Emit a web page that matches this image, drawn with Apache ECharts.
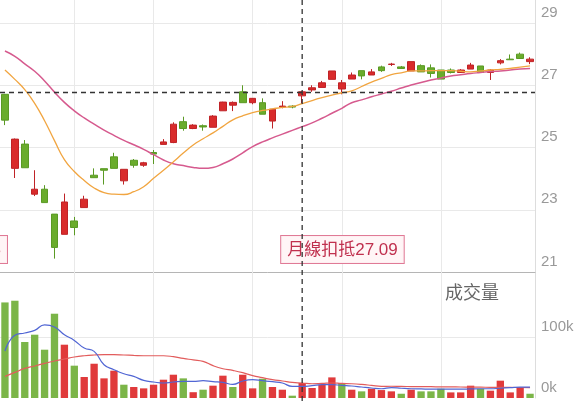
<!DOCTYPE html>
<html><head><meta charset="utf-8">
<script src="https://cdn.jsdelivr.net/npm/echarts@6/dist/echarts.min.js"></script>
<style>html,body{margin:0;padding:0;background:#fff}#c{width:580px;height:403px}</style>
</head><body><div id="c"></div>
<script>
const categories = ['1','2','3','4','5','6','7','8','9','10','11','12','13','14','15','16','17','18','19','20',
'21','22','23','24','25','26','27','28','29','30','31','32','33','34','35','36','37','38','39','40',
'41','42','43','44','45','46','47','48','49','50','51','52','53','54'];
// [open, close, low, high]
const candles = [
[26.71,25.88,25.72,26.72],[24.33,25.27,24.02,25.29],[25.11,24.35,24.35,25.24],[23.50,23.66,23.44,24.27],
[23.66,23.23,23.23,23.79],[22.86,21.79,21.43,22.86],[22.21,23.25,22.21,23.52],[22.64,22.43,22.18,22.77],
[23.07,23.34,23.07,23.45],[24.11,24.03,24.03,24.33],[24.32,24.27,23.81,24.32],[24.70,24.33,24.33,24.83],
[23.93,24.30,23.81,24.30],[24.59,24.43,24.35,24.63],[24.43,24.51,24.38,24.54],[24.84,24.79,24.47,24.92],
[25.10,25.18,25.10,25.27],[25.16,25.75,25.14,25.81],[25.83,25.61,25.54,25.99],[25.61,25.72,25.59,25.75],
[25.70,25.66,25.54,25.74],[25.65,26.01,25.65,26.04],[26.18,26.46,26.18,26.47],[26.36,26.45,26.17,26.48],
[26.79,26.44,26.44,27.00],[26.44,26.58,26.39,26.59],[26.44,26.07,26.07,26.58],[25.85,26.23,25.61,26.24],
[26.30,26.33,26.26,26.49],[26.33,26.30,26.26,26.36],[26.66,26.79,26.42,26.81],[26.85,26.92,26.79,27.00],
[26.93,27.08,26.93,27.14],[27.19,27.46,27.19,27.46],[26.88,27.08,26.71,27.17],[27.20,27.33,27.20,27.41],
[27.47,27.30,27.19,27.47],[27.33,27.43,27.33,27.52],[27.59,27.47,27.43,27.63],[27.67,27.68,27.62,27.72],
[27.59,27.54,27.54,27.62],[27.46,27.76,27.46,27.76],[27.63,27.43,27.43,27.67],[27.56,27.38,27.25,27.67],
[27.49,27.20,27.20,27.49],[27.49,27.41,27.38,27.54],[27.41,27.49,27.41,27.52],[27.52,27.65,27.52,27.72],
[27.62,27.41,27.41,27.62],[27.41,27.49,27.17,27.52],[27.72,27.79,27.67,27.84],[27.84,27.82,27.82,27.99],
[28.00,27.86,27.86,28.05],[27.76,27.84,27.68,27.90]
];
const maShort = [27.49,27.19,26.86,26.42,25.86,25.22,24.61,24.23,23.94,23.70,
23.55,23.50,23.49,23.58,23.74,24.01,24.27,24.54,24.82,25.08,
25.28,25.47,25.68,25.89,26.02,26.12,26.19,26.24,26.29,26.32,
26.41,26.51,26.60,26.68,26.76,26.82,26.96,27.10,27.22,27.34,
27.40,27.46,27.46,27.47,27.47,27.47,27.45,27.43,27.46,27.49,
27.51,27.54,27.58,27.62];
const maMonth = [28.10,27.93,27.69,27.45,27.14,26.78,26.45,26.18,25.95,25.75,
25.56,25.39,25.23,25.09,24.94,24.77,24.60,24.48,24.42,24.36,
24.33,24.36,24.48,24.63,24.83,25.03,25.18,25.31,25.43,25.55,
25.67,25.79,25.94,26.10,26.26,26.44,26.53,26.63,26.72,26.81,
26.91,27.01,27.09,27.17,27.23,27.30,27.34,27.38,27.41,27.44,
27.46,27.49,27.52,27.54];
// volume in thousands
const volume = [156.7,159.5,91.8,103.8,79.2,138.2,87.4,53,34.4,56.2,
32.2,44.8,21.8,18,15.8,21.8,30,38.2,32.2,9.5,
13.6,20.2,36.6,18,38.2,15.8,31.6,18,13.6,3.8,
24.6,16.4,21.8,33.8,24.6,13.6,10.9,15.2,13,10.9,
7,13.6,10.9,10.9,15.2,9.2,9.2,20.2,15.2,12,
28.4,9.2,16.4,7];
// 1 = up day (red), 0 = down day (green)
const volumeUp = [0,0,0,0,0,0,1,0,1,1,1,1,0,1,1,1,1,1,0,1,
0,1,1,0,1,1,0,1,1,0,1,1,1,1,0,1,0,1,1,1,
0,1,0,0,0,1,1,1,0,1,1,1,1,0];
const volMaShort = [77,103,106.6,110.8,120,116.4,103.8,94.4,82,76.4,
54.6,46.4,39.8,35.4,28.9,26.2,24.6,26.2,27.2,27.2,
28.4,26.7,25.6,22.3,27.9,30,28.4,26.7,24.6,19,
19,20.2,21.8,21.8,20.7,19.7,18,16.4,15.2,16.9,
16,15.2,14.8,14.4,14.4,14.4,14.4,14.8,15.2,15.2,
16,16.9,17.7,17.7];
const volMaLong = [35.4,42,48.5,52.5,56.7,60.7,63.9,67.2,69.3,70.5,
71,71,70.5,69.8,69.3,69.3,69.3,67.7,64.9,62.5,
60,53,48,45.2,41.5,36.6,33.3,30,27.9,25.6,
24.6,23.4,23.9,24.6,23.9,23.4,22.3,20.7,19,19.3,
19,18.8,18.6,18.5,18.3,18.2,18,17.8,17.7,17.5,
17.4,17.3,17.2,17.1];
const priceTicks = [21,23,25,27,29];
const volumeTicks = [0,100];
const gridCats = [7,15,25,34,44];
const crossIdx = 30;
const monthLabel = '月線扣抵27.09';
const seasonLabel = '季線扣抵25.45';
const volumeTitle = '成交量';

const RED='#d92b2b', RED_B='#bf2327', GREEN='#6aac2c', GREEN_B='#5a9a24';
const VRED='#e03a3b', VGREEN='#7bb548';
const FONT='"Liberation Sans", Arial, sans-serif';
const CJK='"Liberation Sans", "Noto Sans CJK TC", sans-serif';

const chart = echarts.init(document.getElementById('c'), null, {renderer:'canvas'});
const gridMark = (extra) => ({
  silent:true, symbol:'none', z:1,
  label:{show:false},
  lineStyle:{color:'#e9e9e9', type:'solid', width:1},
  data: gridCats.map(i => ({xAxis: categories[i]})).concat(extra||[])
});
chart.setOption({
  animation:false,
  backgroundColor:'#fff',
  grid:[{left:0,right:45,top:0,height:272},{left:0,right:45,top:272,bottom:5}],
  xAxis:[
    {type:'category',gridIndex:0,data:categories,boundaryGap:true,
     axisLine:{show:true,lineStyle:{color:'#b5b5b5'}},axisTick:{show:false},axisLabel:{show:false},splitLine:{show:false}},
    {type:'category',gridIndex:1,data:categories,boundaryGap:true,
     axisLine:{show:false},axisTick:{show:false},axisLabel:{show:false},splitLine:{show:false}}
  ],
  yAxis:[
    {type:'value',gridIndex:0,position:'right',min:priceTicks[0],max:29.74,interval:2,
     axisLine:{show:true,lineStyle:{color:'#dddddd'}},axisTick:{show:false},
     splitLine:{show:true,showMaxLine:false,lineStyle:{color:'#e9e9e9'}},
     axisLabel:{show:true,showMaxLabel:false,margin:6,color:'#999',fontSize:15,fontFamily:FONT,
       verticalAlign:'bottom',padding:[0,0,3,0],
       formatter:v=>priceTicks.indexOf(v)>=0?String(v):''}},
    {type:'value',gridIndex:1,position:'right',min:0,max:206.6,interval:100,
     axisLine:{show:true,lineStyle:{color:'#dddddd'}},axisTick:{show:false},
     splitLine:{show:false},
     axisLabel:{show:true,showMaxLabel:false,margin:6,color:'#999',fontSize:15,fontFamily:FONT,
       verticalAlign:'bottom',padding:[0,0,3,0],
       formatter:v=>volumeTicks.indexOf(v)>=0?(v+'k'):''}}
  ],
  series:[
    {type:'line',xAxisIndex:0,yAxisIndex:0,data:maMonth,symbol:'none',smooth:true,z:4,
     lineStyle:{color:'#d65a8e',width:1.5},markLine:gridMark()},
    {type:'candlestick',xAxisIndex:0,yAxisIndex:0,data:candles,barWidth:'72%',z:3,
     itemStyle:{color:RED,color0:GREEN,borderColor:RED_B,borderColor0:GREEN_B,borderWidth:1}},
    {type:'line',xAxisIndex:0,yAxisIndex:0,data:maShort,symbol:'none',smooth:true,z:4,
     lineStyle:{color:'#f1a540',width:1.3},
     markLine:{silent:true,symbol:'none',z:20,label:{show:false},
       lineStyle:{color:'#333',type:[5,4],width:1.3},
       data:[{yAxis:candles[crossIdx][1]}]}},
    {type:'bar',xAxisIndex:1,yAxisIndex:1,barWidth:'74%',z:3,
     data:volume.map((v,i)=>({value:v,itemStyle:{color:volumeUp[i]?VRED:VGREEN}})),
     markLine:gridMark([{yAxis:volumeTicks[1]}])},
    {type:'line',xAxisIndex:1,yAxisIndex:1,data:volMaLong,symbol:'none',smooth:true,z:4,
     lineStyle:{color:'#e25c5c',width:1.2}},
    {type:'line',xAxisIndex:1,yAxisIndex:1,data:volMaShort,symbol:'none',smooth:true,z:4,
     lineStyle:{color:'#5166d4',width:1.2}}
  ]
});

const cx = chart.convertToPixel({xAxisIndex:0}, categories[crossIdx]);
const yBase = chart.convertToPixel({yAxisIndex:0}, priceTicks[0]);
const labelStyle = (txt, align) => ({
  text:txt, fill:'#c0304e', font:'17px '+CJK, align:align, verticalAlign:'bottom',
  backgroundColor:'rgba(255,244,246,0.95)', borderColor:'#e07a96', borderWidth:1,
  padding:[4,6,3,6], lineHeight:20
});
chart.setOption({
  graphic:[
    {type:'text', x:cx-21, y:yBase-9, z:50, silent:true, style:labelStyle(monthLabel,'left')},
    {type:'text', x:7, y:yBase-9, z:50, silent:true, style:labelStyle(seasonLabel,'right')},
    {type:'line', z:60, silent:true, shape:{x1:cx,y1:0,x2:cx,y2:403},
     style:{stroke:'#333',lineWidth:1.3,lineDash:[5,4]}},
    {type:'text', x:445, y:283, z:50, silent:true,
     style:{text:volumeTitle, fill:'#666', font:'18px "Noto Sans CJK TC", sans-serif'}}
  ]
});
</script></body></html>
